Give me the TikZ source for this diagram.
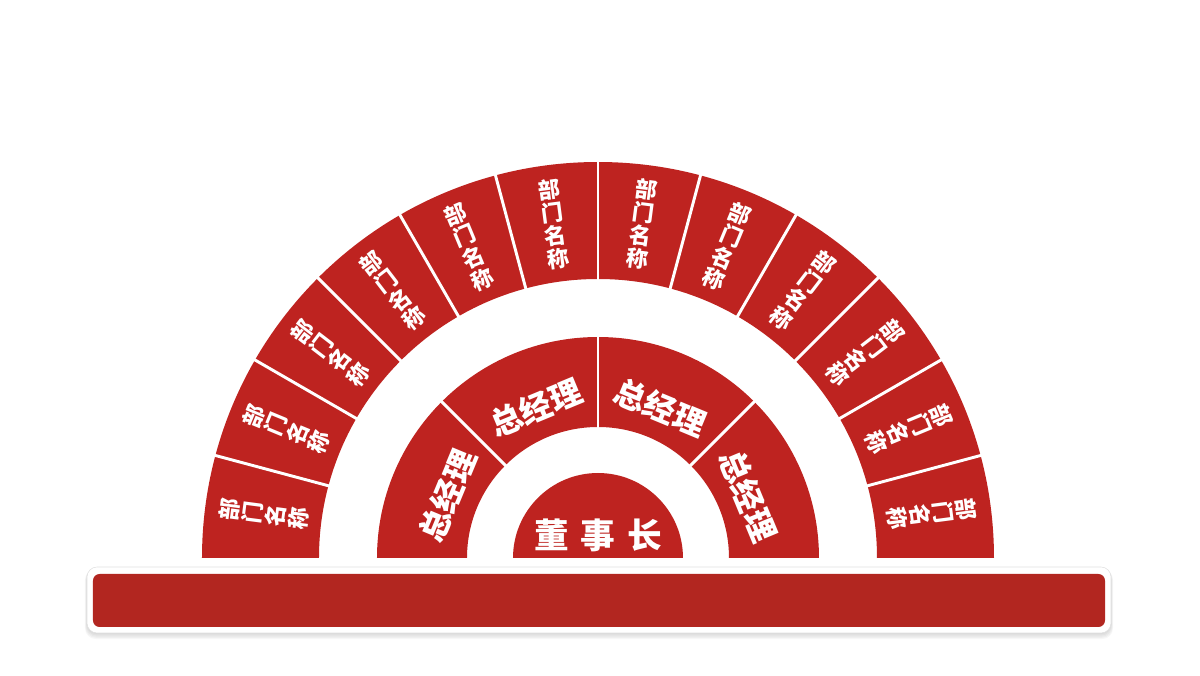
\documentclass[tikz,border=0pt]{standalone}
\usepackage{fontspec}
\newfontfamily\cjk{Noto Sans CJK SC}
\definecolor{fanred}{RGB}{190,35,32}
\definecolor{barred}{RGB}{178,38,32}
\begin{document}
\begin{tikzpicture}[x=0.75pt,y=0.75pt,
  sector/.style={fill=fanred},
  gap/.style={draw=white,line width=2.2pt},
  dept/.style={text=white,font=\cjk\bfseries\fontsize{16.5}{17.5}\selectfont,align=center,inner sep=0pt},
  gm/.style={text=white,font=\cjk\bfseries\fontsize{24}{26}\selectfont,inner sep=0pt},
  chair/.style={text=white,font=\cjk\bfseries\fontsize{26}{28}\selectfont,inner sep=0pt}]
\useasboundingbox (-598,-117) rectangle (602,558);
% outer ring
\fill [sector] (0:279) arc [start angle=0, end angle=180, radius=279] -- (180:396) arc [start angle=180, end angle=0, radius=396] -- cycle;
\foreach \a in {15,30,...,165} {\draw [gap] (\a:278) -- (\a:397);}
\foreach \a [count=\i] in {7.5,22.5,...,172.5} {\node [dept, rotate=\a-90] (dept\i) at (\a:337) {部\\门\\名\\称};}
% middle ring
\fill [sector] (0:131) arc [start angle=0, end angle=180, radius=131] -- (180:221) arc [start angle=180, end angle=0, radius=221] -- cycle;
\foreach \a in {45,90,135} {\draw [gap] (\a:130) -- (\a:222);}
\foreach \a [count=\i] in {22.5,67.5,112.5,157.5} {\node [gm, rotate=\a-90] (gm\i) at (\a:163) {总经理};}
% centre
\fill [sector] (85,0) arc [start angle=0, end angle=180, radius=85] -- cycle;
\node [chair] (chair) at (0,23) {董\hspace{0.34em}事\hspace{0.34em}长};
% base bar
\foreach \s in {1,...,5} {\fill [black, opacity=0.03, rounded corners=8pt] (-511-0.4*\s,-75-1.2*\s) rectangle (513+0.4*\s,-11);}
\filldraw [draw=black!12, fill=white, rounded corners=7.5pt] (-511,-75) rectangle (513,-9);
\fill [barred, rounded corners=5pt] (-505,-69) rectangle (507,-16);
\end{tikzpicture}
\end{document}
